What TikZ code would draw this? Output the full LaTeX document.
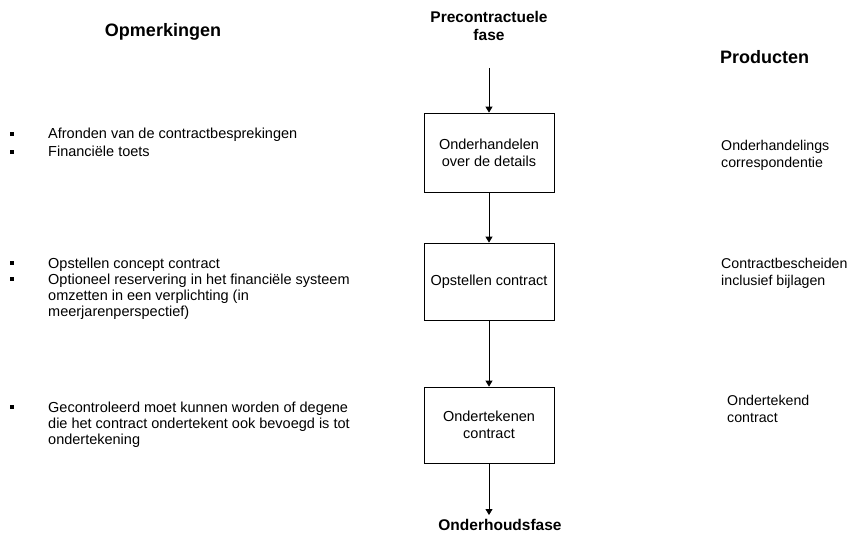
\documentclass[tikz,border=0pt]{standalone}
\usepackage{fontspec}
\setmainfont{Liberation Sans}
\usetikzlibrary{arrows.meta}
\begin{document}
\begin{tikzpicture}[x=1pt,y=-1pt,
  txt/.style={font=\fontsize{14.5}{16}\selectfont, inner sep=0pt, align=left, anchor=north west},
  prodtxt/.style={txt, font=\fontsize{14.2}{17.5}\selectfont},
  head/.style={font=\fontsize{15.5}{18}\selectfont\bfseries, inner sep=0pt, align=center},
  bighead/.style={font=\fontsize{18}{20}\selectfont\bfseries, inner sep=0pt},
  stepbox/.style={draw, line width=0.8pt, minimum width=130pt, inner sep=0pt, align=center,
    font=\fontsize{14.5}{17}\selectfont},
  flow/.style={draw, line width=0.8pt, -{Triangle[length=6pt,width=7pt]}},
  bulletmark/.style={fill, minimum size=3.8pt, inner sep=0pt}
]
\useasboundingbox (0,0) rectangle (854,535);

% column headings
\node[bighead] (opm) at (163,32) {Opmerkingen};
\node[head] (pre) at (489,26) {Precontractuele\\fase};
\node[bighead, anchor=west] (prod) at (720,57) {Producten};

% process steps
\node[stepbox, minimum height=79pt] (s1) at (489,152.5) {Onderhandelen\\over de details};
\node[stepbox, minimum height=77pt] (s2) at (489,281.5) {Opstellen contract};
\node[stepbox, minimum height=76pt] (s3) at (489,425) {Ondertekenen\\contract};
\node[head] (post) at (500,525) {Onderhoudsfase};

\coordinate (in) at (489,68);
\coordinate (out) at (489,515);

\draw[flow] (in) -- (s1.north);
\draw[flow] (s1) -- (s2);
\draw[flow] (s2) -- (s3);
\draw[flow] (s3.south) -- (out);

% remarks
\node[bulletmark] (b1) at (12,134) {};
\node[bulletmark] (b2) at (12,152) {};
\node[txt] (r1) at (48,128) {Afronden van de contractbesprekingen\\[1.5pt]Financiële toets};

\node[bulletmark] (b3) at (12,263) {};
\node[bulletmark] (b4) at (12,279) {};
\node[txt] (r2) at (48,258) {Opstellen concept contract\\Optioneel reservering in het financiële systeem\\omzetten in een verplichting (in\\meerjarenperspectief)};

\node[bulletmark] (b5) at (12,407) {};
\node[txt] (r3) at (48,402) {Gecontroleerd moet kunnen worden of degene\\die het contract ondertekent ook bevoegd is tot\\ondertekening};

% products
\node[prodtxt] (p1) at (721,140) {Onderhandelings\\correspondentie};
\node[prodtxt] (p2) at (721,258) {Contractbescheiden\\inclusief bijlagen};
\node[prodtxt] (p3) at (727,395) {Ondertekend\\contract};
\end{tikzpicture}
\end{document}
